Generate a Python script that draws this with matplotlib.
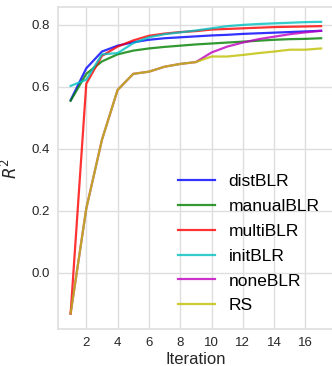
import matplotlib
matplotlib.use("Agg")
import matplotlib.pyplot as plt

iterations = list(range(1, 18))

dist_blr = [0.557, 0.660, 0.714, 0.733, 0.744, 0.752, 0.757, 0.760, 0.763,
            0.766, 0.768, 0.771, 0.773, 0.775, 0.777, 0.779, 0.781]
manual_blr = [0.555, 0.642, 0.682, 0.705, 0.717, 0.724, 0.729, 0.733, 0.737,
              0.740, 0.743, 0.746, 0.749, 0.752, 0.754, 0.755, 0.757]
multi_blr = [-0.132, 0.610, 0.700, 0.730, 0.750, 0.765, 0.772, 0.777, 0.780,
             0.785, 0.787, 0.789, 0.791, 0.793, 0.794, 0.795, 0.796]
init_blr = [0.603, 0.623, 0.705, 0.709, 0.741, 0.760, 0.770, 0.776, 0.782,
            0.789, 0.796, 0.800, 0.803, 0.805, 0.807, 0.809, 0.810]
none_blr = [-0.132, 0.207, 0.429, 0.590, 0.642, 0.649, 0.665, 0.674, 0.680,
            0.711, 0.730, 0.743, 0.754, 0.762, 0.770, 0.776, 0.781]
rs = [-0.132, 0.207, 0.429, 0.590, 0.642, 0.649, 0.665, 0.674, 0.680,
      0.698, 0.698, 0.703, 0.709, 0.714, 0.720, 0.720, 0.724]

series = [
    ("distBLR", dist_blr, "#0000ff"),
    ("manualBLR", manual_blr, "#008000"),
    ("multiBLR", multi_blr, "#ff0000"),
    ("initBLR", init_blr, "#00bfbf"),
    ("noneBLR", none_blr, "#bf00bf"),
    ("RS", rs, "#bfbf00"),
]

TEXT = "#262626"
GRID = "#dedede"

plt.rcParams["font.family"] = ["Liberation Sans", "DejaVu Sans"]

fig = plt.figure(figsize=(3.32, 3.66), dpi=100)
ax = fig.add_axes([0.175, 0.101, 0.83, 0.880])
ax.set_facecolor("white")

for label, vals, color in series:
    ax.plot(iterations, vals, color=color, alpha=0.8, linewidth=1.6, label=label)

ax.set_xlim(0.2, 17.8)
ax.set_ylim(-0.182, 0.858)
ax.set_xticks(range(2, 17, 2))
ax.set_yticks([0.0, 0.2, 0.4, 0.6, 0.8])

ax.grid(True, color=GRID, linewidth=1.0)
ax.set_axisbelow(True)
for spine in ax.spines.values():
    spine.set_color(GRID)
    spine.set_linewidth(1.2)

ax.tick_params(length=0, labelsize=9.5, labelcolor=TEXT, pad=6)
ax.set_xlabel("Iteration", fontsize=12, color=TEXT, labelpad=2)
ax.set_ylabel("$R^2$", fontsize=12, color=TEXT, labelpad=8)

ax.legend(loc="lower right", frameon=False, fontsize=12.5,
          bbox_to_anchor=(1.005, 0.0), handlelength=2.1, labelspacing=0.56)

fig.savefig("out.png", dpi=100)
